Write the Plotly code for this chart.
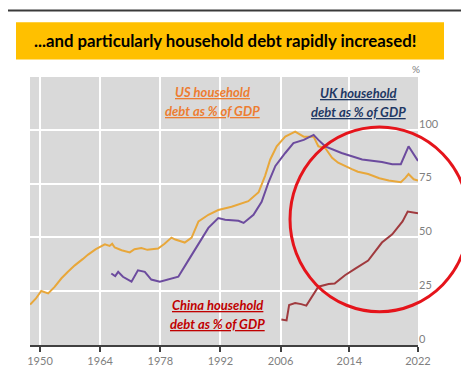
import plotly.graph_objects as go

# ---------------- data ----------------
us_years = [1947.7, 1949, 1950.3, 1951.2, 1951.9, 1953.4, 1955, 1956.5, 1958.1, 1960,
            1961.2, 1963, 1965.1, 1966.2, 1966.8, 1967.4, 1969, 1970.9, 1972, 1973.6,
            1975, 1976, 1977.5, 1979, 1980.6, 1981.5, 1983.7, 1985.3, 1986.9, 1989.2,
            1991.5, 1994.6, 1997, 1998.5, 2000.9, 2002.4, 2003.6, 2005.1, 2006.55, 2007.7,
            2008.7, 2009.85, 2010.4, 2011.2, 2012, 2012.7, 2014.3, 2015, 2016.2, 2017.5,
            2018.6, 2020, 2020.5, 2020.9, 2021.5, 2022]
us_values = [18.8, 21.5, 25.1, 24.3, 24.0, 27.0, 31.0, 34.0, 37.0, 40.0,
             42.0, 44.5, 46.8, 46.0, 47.0, 45.3, 44.0, 43.0, 44.5, 45.0,
             44.2, 44.5, 44.8, 47.0, 49.9, 49.0, 47.6, 49.9, 57.4, 60.5,
             62.7, 64.2, 65.8, 66.8, 71.0, 78.6, 86.2, 92.3, 96.8, 99.1,
             96.8, 96.8, 92.3, 91.5, 87.0, 84.7, 81.7, 80.5, 79.4, 77.5,
             76.4, 75.6, 77.5, 79.4, 77.0, 76.4]

uk_years = [1966.6, 1967.5, 1968.2, 1969.3, 1971.3, 1972.8, 1974.4, 1975.9, 1977.9, 1980.6,
            1982.2, 1984.5, 1986.9, 1989.2, 1991.5, 1993.1, 1996.2, 1997.4, 1999.7, 2001.6,
            2003.2, 2004.8, 2006.55, 2007.5, 2008.7, 2009.85, 2010.4, 2011.2, 2013.1, 2015.5,
            2017.8, 2019, 2020, 2020.9, 2022]
uk_values = [33.2, 32.0, 34.0, 31.7, 29.4, 34.7, 34.0, 30.4, 29.4, 30.9,
             31.7, 39.2, 46.8, 54.4, 59.0, 58.2, 57.7, 56.7, 60.5, 66.5,
             75.6, 83.2, 89.2, 93.8, 95.3, 97.6, 95.3, 92.3, 89.2, 86.2,
             85.0, 84.0, 84.0, 92.3, 85.5]

cn_years = [2006.1, 2006.7, 2007.0, 2007.7, 2008.4, 2009.0, 2010.4, 2011.6, 2012.3, 2013.5,
            2014.7, 2016.2, 2017.8, 2019.0, 2020.2, 2020.8, 2022.0]
cn_values = [11.8, 11.4, 18.6, 19.5, 19.0, 18.3, 27.1, 28.3, 28.6, 32.4,
             35.5, 39.2, 47.6, 51.4, 57.4, 62.0, 61.2]

x_tick_years = [1950, 1964, 1978, 1992, 2006, 2014, 2022]
y_tick_values = [0, 25, 50, 75, 100]

title_text = "...and particularly household debt rapidly increased!"
us_label = ["US household", "debt as % of GDP"]
uk_label = ["UK household", "debt as % of GDP"]
cn_label = ["China household", "debt as % of GDP"]

# ---------------- layout helpers ----------------
W, H = 469, 371
ML, MR, MT, MB = 22, 59, 69, 28
PW, PH = W - ML - MR, H - MT - MB
BREAK_YEAR = 2006
STRETCH = 2.0  # the years after 2006 are drawn twice as wide


def xpos(year):
    return year if year <= BREAK_YEAR else BREAK_YEAR + (year - BREAK_YEAR) * STRETCH


def px(x):
    return (x - ML) / PW


def py(y):
    return (H - MB - y) / PH


FONT = "Lato, sans-serif"

fig = go.Figure()
fig.add_trace(go.Scatter(x=[xpos(v) for v in us_years], y=us_values, mode="lines",
                         line=dict(color="#E8A73A", width=2), hoverinfo="skip"))
fig.add_trace(go.Scatter(x=[xpos(v) for v in uk_years], y=uk_values, mode="lines",
                         line=dict(color="#6C4B9E", width=2), hoverinfo="skip"))
fig.add_trace(go.Scatter(x=[xpos(v) for v in cn_years], y=cn_values, mode="lines",
                         line=dict(color="#A03A3E", width=2), hoverinfo="skip"))

fig.update_layout(
    width=W, height=H,
    margin=dict(l=ML, r=MR, t=MT, b=MB),
    paper_bgcolor="white", plot_bgcolor="#D9D9D9",
    showlegend=False,
    font=dict(family=FONT, color="#808080"),
    xaxis=dict(
        range=[xpos(1947.67), xpos(2022)],
        tickvals=[xpos(v) for v in x_tick_years],
        ticktext=[str(v) for v in x_tick_years],
        showgrid=True, gridcolor="white", gridwidth=1.5,
        showline=True, linecolor="#404040", linewidth=2,
        ticks="outside", ticklen=5, tickwidth=1.5, tickcolor="#404040",
        tickfont=dict(size=11, color="#808080"),
        zeroline=False, fixedrange=True,
    ),
    yaxis=dict(
        range=[0, 124.5], side="right",
        tickvals=y_tick_values,
        showgrid=True, gridcolor="white", gridwidth=1.5,
        showline=False, zeroline=False, ticks="",
        tickfont=dict(size=11, color="#808080"),
        ticklabelshift=-6, ticklabelstandoff=0, fixedrange=True,
    ),
)

shapes = [
    dict(type="rect", xref="paper", yref="paper", layer="below",
         x0=px(8), x1=px(436), y0=py(51), y1=py(13),
         fillcolor="#FFC000", line=dict(width=0)),
    dict(type="rect", xref="paper", yref="paper",
         x0=px(0), x1=px(462), y0=py(2), y1=py(0),
         fillcolor="#3A3A3A", line=dict(width=0)),
    dict(type="circle", xref="paper", yref="paper",
         x0=px(282), x1=px(461), y0=py(309), y1=py(120),
         line=dict(color="#E5141B", width=3)),
]
fig.update_layout(shapes=shapes)


def label_lines(lines, cx, y_first, color):
    out = []
    for i, t in enumerate(lines):
        out.append(dict(text="<b><i><u>" + t + "</u></i></b>", x=px(cx), y=py(y_first + 20 * i),
                        font=dict(size=13, color=color)))
    return out


ann = [
    dict(text="<b>" + title_text + "</b>", x=px(217), y=py(32),
         font=dict(size=16.8, color="black")),
    dict(text="%", x=px(408), y=py(61), font=dict(size=10, color="#808080")),
]
ann += label_lines(us_label, 204, 84, "#ED7D31")
ann += label_lines(uk_label, 350, 85, "#1F3864")
ann += label_lines(cn_label, 209, 302, "#C00000")
for a in ann:
    a.update(xref="paper", yref="paper", showarrow=False,
             xanchor="center", yanchor="middle")
fig.update_layout(annotations=ann)

fig.write_html("out.html")
